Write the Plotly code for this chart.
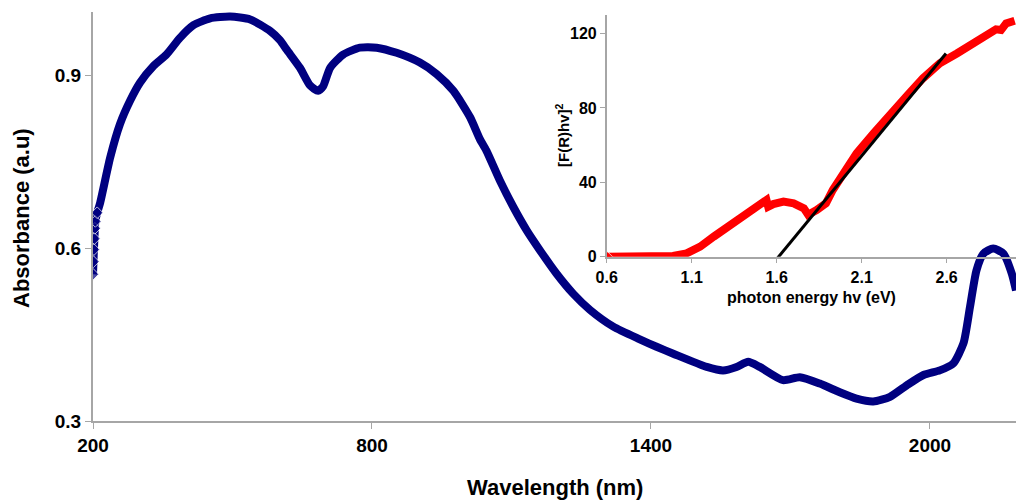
import plotly.graph_objects as go

# Main spectrum: wavelength (nm) vs absorbance (a.u)
wavelength = [200, 201, 202, 203, 204, 205, 209, 215, 237, 258, 280, 301, 330, 358, 387, 416,
              452, 495, 538, 581, 602, 617, 645, 667, 684, 695, 710, 738, 774, 810, 853, 903,
              939, 975, 1011, 1032, 1046, 1075, 1104, 1133, 1161, 1197, 1233, 1269, 1319, 1376,
              1412, 1448, 1520, 1555, 1584, 1609, 1634, 1684, 1720, 1763, 1806, 1842, 1878, 1914,
              1950, 1986, 2021, 2050, 2072, 2086, 2100, 2115, 2136, 2158, 2176, 2185]
absorbance = [0.555, 0.577, 0.598, 0.617, 0.635, 0.647, 0.662, 0.678, 0.758, 0.816, 0.857, 0.888,
              0.917, 0.937, 0.966, 0.988, 1.000, 1.003, 0.998, 0.978, 0.962, 0.945, 0.914, 0.883,
              0.874, 0.882, 0.914, 0.937, 0.949, 0.949, 0.940, 0.923, 0.903, 0.874, 0.828, 0.790,
              0.770, 0.718, 0.672, 0.631, 0.597, 0.556, 0.521, 0.493, 0.464, 0.442, 0.429, 0.417,
              0.394, 0.388, 0.394, 0.403, 0.394, 0.371, 0.376, 0.365, 0.350, 0.339, 0.334, 0.342,
              0.362, 0.380, 0.388, 0.400, 0.435, 0.498, 0.562, 0.591, 0.600, 0.591, 0.556, 0.527]

# Inset: Tauc plot
energy = [0.6, 0.7, 0.8, 0.9, 0.99, 1.07, 1.15, 1.23, 1.31, 1.38, 1.46, 1.52, 1.54, 1.55, 1.58,
          1.64, 1.70, 1.76, 1.785, 1.835, 1.89, 1.93, 1.99, 2.07, 2.17, 2.27, 2.37, 2.46, 2.56,
          2.66, 2.76, 2.84, 2.89, 2.92, 2.95, 3.0]
frhv2 = [0, 0, 0.1, 0.2, 0.4, 1.8, 5.4, 10.8, 16.1, 20.6, 25.1, 28.7, 30.5, 26.9, 28.3, 29.6,
         28.7, 26.0, 22.6, 25.1, 28.7, 35.9, 44.8, 55.6, 66.3, 77.1, 86.9, 95.9, 104.0, 109.3,
         114.7, 120.1, 122.3, 121.9, 125.5, 126.9]

# Linear extrapolation line
fit_energy = [1.58, 2.596]
fit_value = [-3.5, 109.3]

main_x_ticks = [200, 800, 1400, 2000]
main_y_ticks = [0.3, 0.6, 0.9]
inset_x_ticks = [0.6, 1.1, 1.6, 2.1, 2.6]
inset_y_ticks = [0, 40, 80, 120]

FONT = "Arial, Liberation Sans, sans-serif"
AXC = "#a6a6a6"

# plot area at x 93..1016 and y 12..421 of the 1016x501 window
PT = 12
W, H = 1016, 501
L, T, B = 93, PT, 501 - 421
PH = 421 - PT
PW = 1016 - 93
YMAX = 0.9 + (76 - PT) * 0.3 / 173

main_marker_sizes = [9 if i < 7 else 0 for i in range(len(wavelength))]
inset_marker_sizes = [9 if i < 1 else 0 for i in range(len(energy))]

fig = go.Figure()
fig.add_trace(go.Scatter(
    x=wavelength, y=absorbance, mode="lines+markers",
    line=dict(color="#000080", width=8, shape="spline", smoothing=0.6),
    marker=dict(symbol="diamond", size=main_marker_sizes, color="#000080"),
    xaxis="x", yaxis="y", showlegend=False))
fig.add_trace(go.Scatter(
    x=energy, y=frhv2, mode="lines+markers",
    line=dict(color="#ff0000", width=8),
    marker=dict(symbol="diamond", size=inset_marker_sizes, color="#ff0000"),
    xaxis="x2", yaxis="y2", showlegend=False))
fig.add_trace(go.Scatter(
    x=fit_energy, y=fit_value, mode="lines",
    line=dict(color="#000000", width=3),
    xaxis="x2", yaxis="y2", showlegend=False))

tick_main = dict(family=FONT, size=19, color="#000000", weight="bold")
tick_inset = dict(family=FONT, size=16, color="#000000", weight="bold")

fig.update_layout(
    width=W, height=H,
    margin=dict(l=L, r=0, t=T, b=B, pad=0),
    paper_bgcolor="white", plot_bgcolor="rgba(0,0,0,0)",
    xaxis=dict(domain=[0, 1], range=[200, 2185], tickvals=main_x_ticks,
               showgrid=False, zeroline=False, showline=True, linecolor=AXC, linewidth=2,
               ticks="outside", ticklen=6, tickcolor=AXC, tickfont=tick_main, anchor="y"),
    yaxis=dict(domain=[0, 1], range=[0.3, YMAX], tickvals=main_y_ticks,
               tickformat=".1f",
               showgrid=False, zeroline=False, showline=True, linecolor=AXC, linewidth=2,
               ticks="outside", ticklen=6, tickcolor=AXC, tickfont=tick_main, anchor="x"),
    xaxis2=dict(domain=[(606.7 - 93) / PW, 1], range=[0.6, 3.008], tickvals=inset_x_ticks,
                tickformat=".1f",
                showgrid=False, zeroline=False, showline=True, linecolor=AXC, linewidth=1.5,
                ticks="outside", ticklen=5, tickcolor=AXC, tickfont=tick_inset, anchor="y2"),
    yaxis2=dict(domain=[(421 - 256.7) / PH, (421 - 15) / PH], range=[0, 130],
                tickvals=inset_y_ticks,
                showgrid=False, zeroline=False, showline=True, linecolor=AXC, linewidth=1.5,
                ticks="outside", ticklen=5, tickcolor=AXC, tickfont=tick_inset, anchor="x2"),
    annotations=[
        dict(text="Wavelength (nm)", xref="paper", yref="paper", x=0.5, y=(421 - 487) / PH,
             xanchor="center", yanchor="middle", showarrow=False,
             font=dict(family=FONT, size=22, color="#000000", weight="bold")),
        dict(text="Absorbance (a.u)", xref="paper", yref="paper", x=(21 - 93) / PW,
             y=(421 - 218) / PH, xanchor="center", yanchor="middle", textangle=-90,
             showarrow=False, font=dict(family=FONT, size=22, color="#000000", weight="bold")),
        dict(text="photon energy hv (eV)", xref="paper", yref="paper", x=(811.5 - 93) / PW,
             y=(421 - 297) / PH, xanchor="center", yanchor="middle", showarrow=False,
             font=dict(family=FONT, size=16, color="#000000", weight="bold")),
        dict(text="[F(R)hv]<sup>2</sup>", xref="paper", yref="paper", x=(562 - 93) / PW,
             y=(421 - 136) / PH, xanchor="center", yanchor="middle", textangle=-90,
             showarrow=False, font=dict(family=FONT, size=15, color="#000000", weight="bold")),
    ],
)

fig.write_html(
    "out.html",
    config={"displayModeBar": False},
    post_script="document.body.style.margin='0';document.body.style.overflow='hidden';",
)
